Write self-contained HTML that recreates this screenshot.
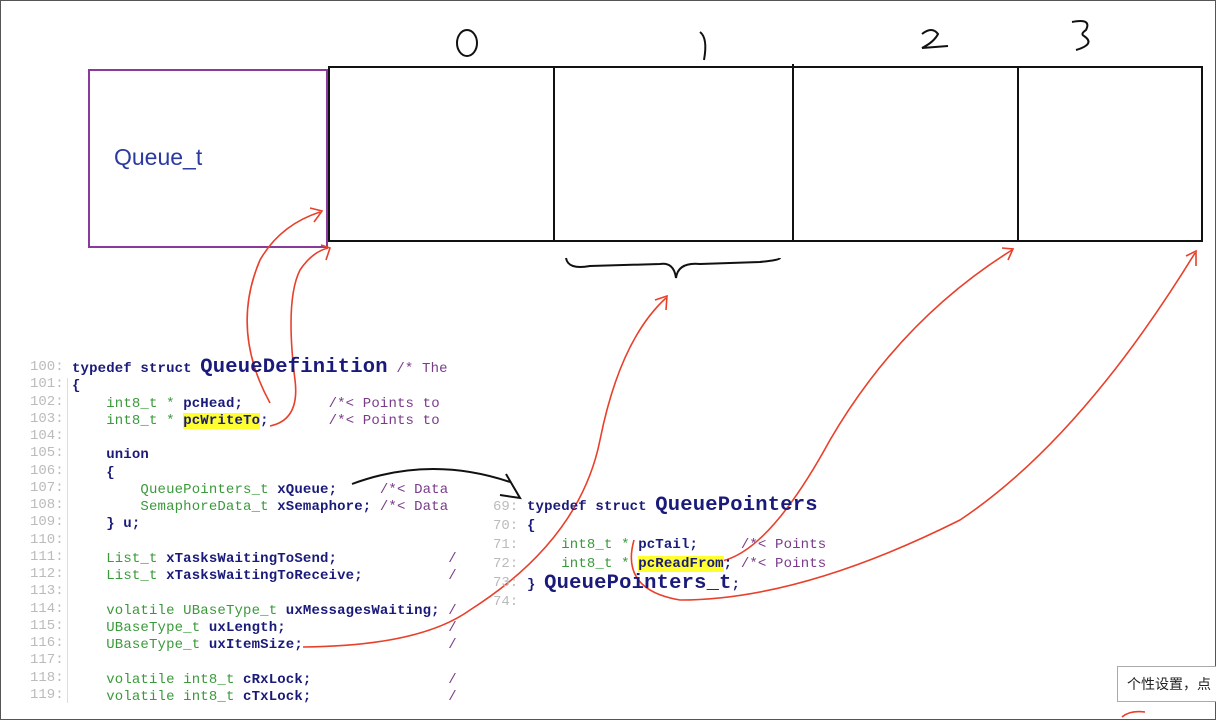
<!DOCTYPE html>
<html><head><meta charset="utf-8"><style>
body{margin:0;width:1216px;height:720px;background:#fff;position:relative;overflow:hidden;font-family:"Liberation Sans",sans-serif}
.frame{position:absolute;left:0;top:0;width:1214px;height:718px;border:1px solid #555}
.code{position:absolute;font-family:"Liberation Mono",monospace;font-size:14px;letter-spacing:0.15px;white-space:pre;color:#1a1a7a;font-weight:bold}
.ln{position:absolute;font-family:"Liberation Mono",monospace;font-size:14px;color:#bbb;white-space:pre}
.g{color:#3a9a3a;font-weight:normal}
.c{color:#7a3a8a;font-weight:normal}
.hl{background:#ffff30}
.big{font-size:20.5px;letter-spacing:0.2px}
</style></head><body>
<div class="frame"></div>
<div style="position:absolute;left:88px;top:69px;width:236px;height:175px;border:2px solid #8a3a9a"></div>
<div style="position:absolute;left:114px;top:144px;font-size:23px;color:#2a3aa0">Queue_t</div>
<svg width="1216" height="720" style="position:absolute;left:0;top:0">
<g stroke="#111" stroke-width="2" fill="none">
<rect x="329" y="67" width="873" height="174"/>
<line x1="554" y1="67" x2="554" y2="241"/>
<line x1="793" y1="64" x2="793" y2="241"/>
<line x1="1018" y1="67" x2="1018" y2="241"/>
<path d="M566 258 Q568 270 590 266 L660 264 Q674 262 676 278 Q678 262 700 264 L760 262 Q780 260 780 258"/>
<ellipse cx="467" cy="43" rx="10" ry="13"/>
<path d="M700 32 Q708 38 704 60"/>
<path d="M922 34 Q932 26 938 34 Q934 42 922 48 L948 46"/>
<path d="M1072 22 Q1092 18 1086 30 Q1080 34 1084 36 Q1096 44 1076 50"/>
<path d="M352 484 Q430 455 510 482"/><path d="M506 474 L520 498 L500 495"/>
</g>
<g stroke="#e8402a" stroke-width="1.6" fill="none">
<path d="M270 403 Q230 330 260 260 Q280 225 320 212"/><path d="M310 208 L322 211 L314 222"/>
<path d="M270 426 Q300 420 295 380 Q285 300 300 270 Q312 252 328 248"/><path d="M321 245 L330 248 L326 260"/>
<path d="M303 647 Q420 646 470 610 Q580 540 600 440 Q620 340 666 298"/><path d="M655 300 L667 296 L666 310"/>
<path d="M722 561 Q770 550 830 440 Q900 320 1012 250"/><path d="M1002 248 L1013 249 L1008 260"/>
<path d="M634 540 Q620 590 680 600 Q800 600 960 520 Q1080 440 1195 253"/><path d="M1186 256 L1196 251 L1196 266"/>
<path d="M1122 717 Q1130 710 1145 712"/>
</g>
</svg>
<div class="ln" style="left:30px;top:359px;line-height:17.25px">100:
101:
102:
103:
104:
105:
106:
107:
108:
109:
110:
111:
112:
113:
114:
115:
116:
117:
118:
119:</div>
<div style="position:absolute;left:67px;top:378px;width:1px;height:325px;background:#ddd"></div>
<div class="code" style="left:72px;top:359px;line-height:17.25px">typedef struct <span class="big">QueueDefinition</span> <span class="c">/* The</span>
{
    <span class="g">int8_t *</span> pcHead;          <span class="c">/*&lt; Points to</span>
    <span class="g">int8_t *</span> <span class="hl">pcWriteTo</span>;       <span class="c">/*&lt; Points to</span>

    union
    {
        <span class="g">QueuePointers_t</span> xQueue;     <span class="c">/*&lt; Data</span>
        <span class="g">SemaphoreData_t</span> xSemaphore; <span class="c">/*&lt; Data</span>
    } u;

    <span class="g">List_t</span> xTasksWaitingToSend;             <span class="c">/</span>
    <span class="g">List_t</span> xTasksWaitingToReceive;          <span class="c">/</span>

    <span class="g">volatile UBaseType_t</span> uxMessagesWaiting; <span class="c">/</span>
    <span class="g">UBaseType_t</span> uxLength;                   <span class="c">/</span>
    <span class="g">UBaseType_t</span> uxItemSize;                 <span class="c">/</span>

    <span class="g">volatile int8_t</span> cRxLock;                <span class="c">/</span>
    <span class="g">volatile int8_t</span> cTxLock;                <span class="c">/</span></div>
<div class="ln" style="left:493px;top:498px;line-height:19px">69:
70:
71:
72:
73:
74:</div>
<div class="code" style="left:527px;top:496px;line-height:19px">typedef struct <span class="big">QueuePointers</span>
{
    <span class="g">int8_t *</span> pcTail;     <span class="c">/*&lt; Points</span>
    <span class="g">int8_t *</span> <span class="hl">pcReadFrom</span>; <span class="c">/*&lt; Points</span>
} <span class="big">QueuePointers_t</span>;</div>
<div style="position:absolute;left:1117px;top:666px;width:110px;height:34px;border:1px solid #aaa;background:#fff;font-family:'Liberation Sans','Noto Sans CJK SC',sans-serif;font-size:14px;line-height:34px;padding-left:9px;white-space:nowrap;color:#222">个性设置，点</div>
</body></html>
